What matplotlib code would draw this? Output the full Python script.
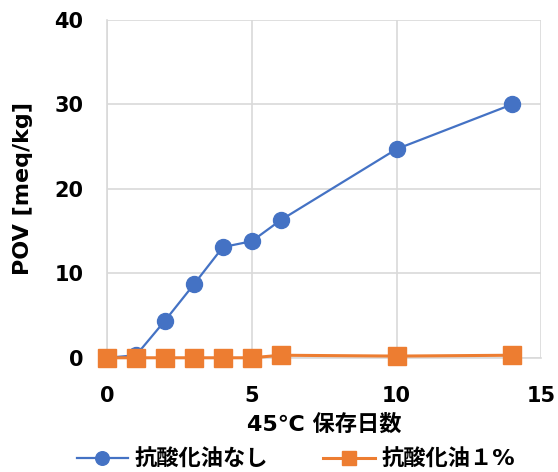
import numpy as np
import matplotlib.pyplot as plt

plt.rcParams['font.family'] = ['DejaVu Sans', 'Noto Sans CJK JP']

days = [0, 1, 2, 3, 4, 5, 6, 10, 14]
pov_none = [0.0, 0.3, 4.4, 8.7, 13.1, 13.8, 16.3, 24.7, 30.0]
pov_1pct = [0.0, 0.0, 0.0, 0.0, 0.0, 0.0, 0.3, 0.2, 0.3]

blue = '#4472C4'
orange = '#ED7D31'

fig = plt.figure(figsize=(5.58, 4.72), dpi=100)
ax = fig.add_axes([0.192, 0.242, 0.778, 0.716])

ax.plot(days, pov_none, color=blue, lw=1.6, marker='o', ms=11.5,
        label='抗酸化油なし', zorder=3, clip_on=False)
ax.plot(days, pov_1pct, color=orange, lw=2.2, marker='s', ms=12.5,
        label='抗酸化油１%', zorder=4, clip_on=False)

ax.set_xlim(0, 15)
ax.set_ylim(0, 40)
ax.set_xticks([0, 5, 10, 15])
ax.set_yticks([0, 10, 20, 30, 40])
ax.grid(True, color='#D9D9D9', lw=1.2)
ax.set_axisbelow(True)
for s in ['top', 'right']:
    ax.spines[s].set_visible(False)
for s in ['left', 'bottom']:
    ax.spines[s].set_color('#D9D9D9')
    ax.spines[s].set_linewidth(1.2)
ax.tick_params(length=0, labelsize=15)
ax.tick_params(axis='y', pad=17)
ax.tick_params(axis='x', pad=20)
for lbl in ax.get_xticklabels() + ax.get_yticklabels():
    lbl.set_fontweight('bold')

ax.set_xlabel('45℃ 保存日数', fontsize=16, fontweight='bold')
ax.xaxis.set_label_coords(0.5, -0.165)
ax.set_ylabel('POV [meq/kg]', fontsize=16, fontweight='bold')
ax.yaxis.set_label_coords(-0.17, 0.5)

fig.legend(loc='center', bbox_to_anchor=(0.53, 0.028), ncol=2,
           frameon=False, prop={'size': 16, 'weight': 'bold'},
           markerscale=0.85, handlelength=2.3, columnspacing=2.5,
           handletextpad=0.3)

fig.savefig('out.png', dpi=100)
